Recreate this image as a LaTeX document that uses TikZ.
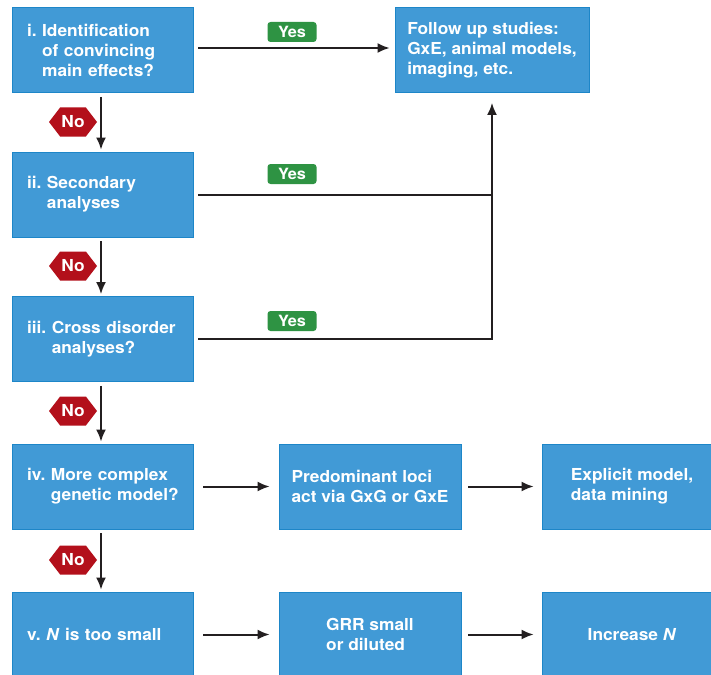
\documentclass[tikz,border=0pt]{standalone}
\usepackage{fontspec}
\setmainfont{texgyreheros}[Extension=.otf, UprightFont=*-regular, BoldFont=*-bold, ItalicFont=*-italic, BoldItalicFont=*-bolditalic, FakeStretch=1.05]
\usetikzlibrary{shapes.symbols,arrows.meta}
\definecolor{boxblue}{HTML}{419AD6}
\definecolor{boxedge}{HTML}{1D86C8}
\definecolor{yesgreen}{HTML}{2E9343}
\definecolor{nored}{HTML}{B3101B}
\definecolor{linegray}{HTML}{231F20}
\begin{document}
\begin{tikzpicture}[x=1pt,y=-1pt,
  box/.style={draw=boxedge, line width=0.8pt, fill=boxblue, text=white,
    font=\bfseries\fontsize{16.5}{20}\selectfont, inner sep=0pt, minimum height=85pt},
  leftbox/.style={box, minimum width=181pt, text width=151pt, align=left},
  midbox/.style={box, minimum width=182pt, align=left},
  rightbox/.style={box, minimum width=180pt, align=left},
  fubox/.style={box, minimum width=194pt, align=left},
  yeslbl/.style={fill=yesgreen, rounded corners=3pt, text=white,
    font=\bfseries\fontsize{15.5}{18}\selectfont, minimum width=49pt, minimum height=20pt, inner sep=0pt},
  nolbl/.style={shape=signal, signal to=west and east, signal pointer angle=105,
    fill=nored, text=white, font=\bfseries\fontsize{16.5}{18}\selectfont,
    minimum width=48pt, minimum height=29pt, inner sep=1pt},
  conn/.style={draw=linegray, line width=2pt},
  arrow/.style={conn, -{Latex[length=12pt,width=10pt]}}
]
\clip (0,0) rectangle (711,674);
\fill[white] (0,0) rectangle (711,674);

% left column
\node[leftbox] (i) at (102.5,50) {\mbox{i.~Identification}\\\mbox{\phantom{i.~}of convincing}\\\mbox{\phantom{i.~}main effects?}};
\node[leftbox] (ii) at (102.5,194.5) {\mbox{ii.~Secondary}\\\mbox{\phantom{ii.~}analyses}};
\node[leftbox] (iii) at (102.5,339) {\mbox{iii.~Cross disorder}\\\mbox{\phantom{iii.~}analyses?}};
\node[leftbox] (iv) at (102.5,486.5) {\mbox{iv.~More complex}\\\mbox{\phantom{iv.~}genetic model?}};
\node[leftbox] (v) at (102.5,634.5) {\mbox{v.~\textit{N} is too small}};

% follow-up
\node[fubox] (fu) at (492,50) {Follow up studies:\\GxE, animal models,\\imaging, etc.};

% middle and right
\node[midbox] (pl) at (370,486.5) {Predominant loci\\act via GxG or GxE};
\node[rightbox] (em) at (632,486.5) {Explicit model,\\data mining};
\node[midbox] (grr) at (370,634.5) {GRR small\\or diluted};
\node[rightbox] (inc) at (632,634.5) {Increase \textit{N}};

% Yes connectors
\draw[arrow, shorten <=5pt, shorten >=5pt] ([yshift=2pt]i.east) -- ([yshift=2pt]i.east -| fu.west);
\draw[conn, shorten <=5pt] (ii.east) -- (ii.east -| fu.south);
\draw[arrow, line join=miter, shorten <=5pt, shorten >=10pt] (iii.east) -- (iii.east -| fu.south) -- (fu.south);

\node[yeslbl] (y1) at (292,32) {Yes};
\node[yeslbl] (y2) at (292,174) {Yes};
\node[yeslbl] (y3) at (292,321) {Yes};

% No connectors
\draw[arrow, shorten <=4pt, shorten >=2pt] ([xshift=-1.5pt]i.south) -- ([xshift=-1.5pt]ii.north);
\draw[arrow, shorten <=4pt, shorten >=2pt] ([xshift=-1.5pt]ii.south) -- ([xshift=-1.5pt]iii.north);
\draw[arrow, shorten <=4pt, shorten >=2pt] ([xshift=-1.5pt]iii.south) -- ([xshift=-1.5pt]iv.north);
\draw[arrow, shorten <=4pt, shorten >=2pt] ([xshift=-1.5pt]iv.south) -- ([xshift=-1.5pt]v.north);

\node[nolbl] (n1) at (73,122) {No};
\node[nolbl] (n2) at (73,266) {No};
\node[nolbl] (n3) at (73,411) {No};
\node[nolbl] (n4) at (73,560) {No};

% row arrows
\draw[arrow, shorten <=10pt, shorten >=9pt] (iv) -- (pl);
\draw[arrow, shorten <=7pt, shorten >=8pt] (pl) -- (em);
\draw[arrow, shorten <=10pt, shorten >=9pt] (v) -- (grr);
\draw[arrow, shorten <=7pt, shorten >=8pt] (grr) -- (inc);
\end{tikzpicture}
\end{document}
